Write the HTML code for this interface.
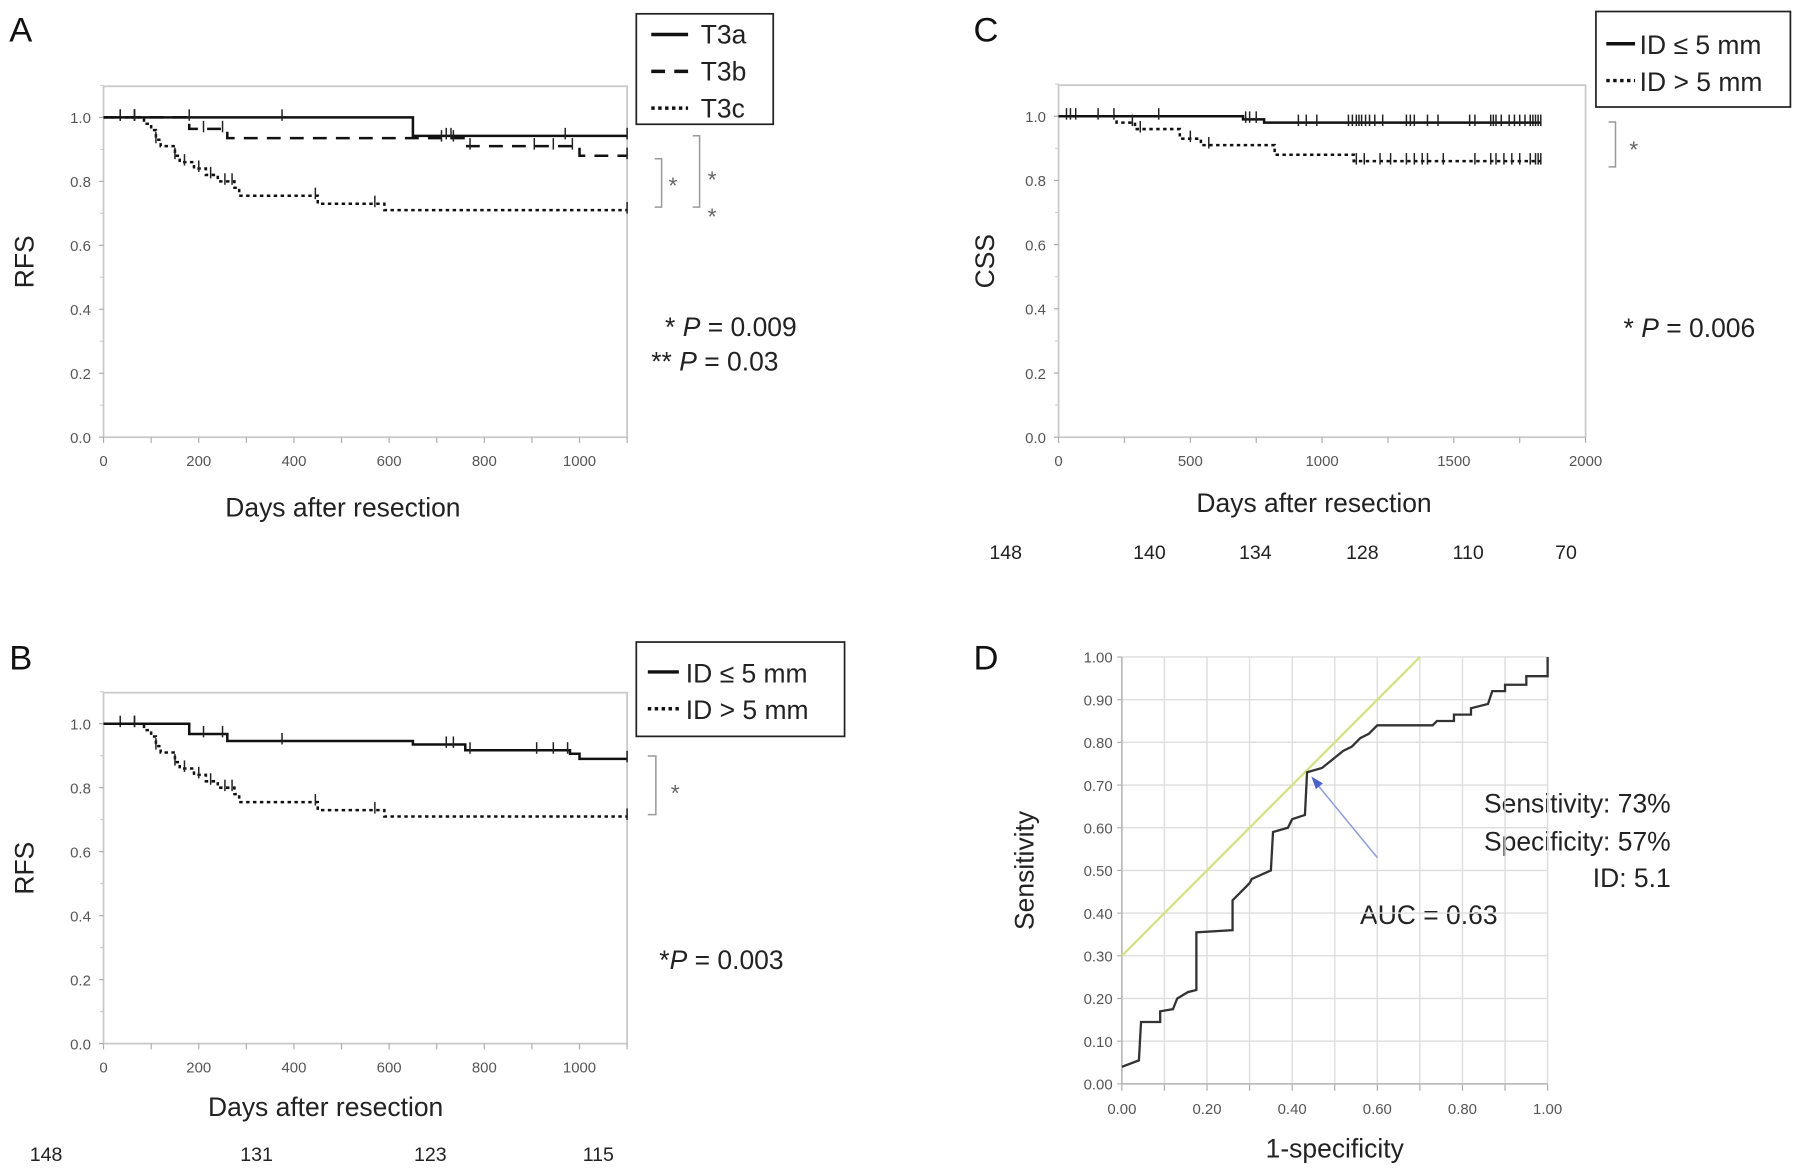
<!DOCTYPE html>
<html><head><meta charset="utf-8"><style>
html,body{margin:0;padding:0;background:#fff;}
svg{display:block;font-family:"Liberation Sans",sans-serif;}
.tk{font-size:13px;fill:#555;}
.lab{font-size:23px;fill:#222;}
.big{font-size:30px;fill:#111;}
</style></head><body>
<svg id="fig" width="1795" height="1172" viewBox="0 0 1560 1018.6" preserveAspectRatio="none">
<text x="8" y="36" class="big">A</text>
<text x="8" y="582" class="big">B</text>
<text x="846" y="36" class="big">C</text>
<text x="846" y="582" class="big">D</text>

<!-- Panel A legend -->
<g>
<rect x="553" y="12" width="119" height="96" fill="none" stroke="#222" stroke-width="1.5"/>
<line x1="566" y1="30" x2="598" y2="30" stroke="#111" stroke-width="3"/><text x="609" y="38" class="lab">T3a</text>
<line x1="566" y1="62" x2="598" y2="62" stroke="#111" stroke-width="3" stroke-dasharray="12,8"/><text x="609" y="70" class="lab">T3b</text>
<line x1="566" y1="94" x2="598" y2="94" stroke="#111" stroke-width="3" stroke-dasharray="3,3"/><text x="609" y="102" class="lab">T3c</text>
</g>
<g stroke="#999" fill="none" stroke-width="1.3">
<polyline points="569,138 575,138 575,180 569,180"/>
<polyline points="602,118 608,118 608,180 602,180"/>
</g>
<text x="581" y="168" class="lab" fill="#666" style="fill:#666;font-size:20px">*</text>
<text x="615" y="163" style="fill:#666;font-size:20px">*</text>
<text x="615" y="195" style="fill:#666;font-size:20px">*</text>
<text x="578" y="292" class="lab">* <tspan font-style="italic">P</tspan> = 0.009</text>
<text x="566" y="322" class="lab">** <tspan font-style="italic">P</tspan> = 0.03</text>

<!-- Panel B legend -->
<g>
<rect x="553" y="558" width="181" height="82" fill="none" stroke="#222" stroke-width="1.5"/>
<line x1="563" y1="584" x2="590" y2="584" stroke="#111" stroke-width="3"/><text x="596" y="593" class="lab">ID ≤ 5 mm</text>
<line x1="563" y1="616" x2="590" y2="616" stroke="#111" stroke-width="3" stroke-dasharray="3,3"/><text x="596" y="625" class="lab">ID &gt; 5 mm</text>
</g>
<polyline points="563,657 570,657 570,708 563,708" fill="none" stroke="#999" stroke-width="1.3"/>
<text x="583" y="696" style="fill:#666;font-size:20px">*</text>
<text x="573" y="842" class="lab">*<tspan font-style="italic">P</tspan> = 0.003</text>

<!-- Panel C legend -->
<g>
<rect x="1387" y="10" width="169" height="83" fill="none" stroke="#222" stroke-width="1.5"/>
<line x1="1396" y1="38" x2="1421" y2="38" stroke="#111" stroke-width="3"/><text x="1425" y="47" class="lab">ID ≤ 5 mm</text>
<line x1="1396" y1="70" x2="1421" y2="70" stroke="#111" stroke-width="3" stroke-dasharray="3,3"/><text x="1425" y="79" class="lab">ID &gt; 5 mm</text>
</g>
<polyline points="1398,106 1404,106 1404,145 1398,145" fill="none" stroke="#999" stroke-width="1.3"/>
<text x="1416" y="137" style="fill:#666;font-size:20px">*</text>
<text x="1411" y="293" class="lab">* <tspan font-style="italic">P</tspan> = 0.006</text>

<!-- Panel D annotations -->
<text x="1452" y="706" text-anchor="end" class="lab">Sensitivity: 73%</text>
<text x="1452" y="739" text-anchor="end" class="lab">Specificity: 57%</text>
<text x="1452" y="771" text-anchor="end" class="lab">ID: 5.1</text>
<text x="1182" y="803" class="lab">AUC = 0.63</text>
<g id="dyn"></g>
</svg>
<script>
// ---- Panel A data ----
const t3aTimes=[0,650,1100];
const t3aSurv=[1.0,0.942,0.942];
const t3aCens=[35,65,180,375,720,730,970,1100];
const t3bTimes=[0,180,260,760,1000,1100];
const t3bSurv=[1.0,0.964,0.935,0.91,0.88,0.88];
const t3bCens=[35,65,210,250,710,735,770,905,945,985,1100];
const t3cTimes=[0,85,100,110,120,150,160,190,215,240,275,285,450,590,1100];
const t3cSurv=[1.0,0.98,0.96,0.93,0.91,0.88,0.86,0.84,0.82,0.80,0.78,0.755,0.73,0.71,0.71];
const t3cCens=[65,110,150,170,200,225,255,270,445,570,1100];
// ---- Panel B data ----
const bSmallTimes=[0,180,260,650,760,980,1000,1100];
const bSmallSurv=[1.0,0.968,0.946,0.935,0.917,0.906,0.89,0.89];
const bSmallCens=[35,65,210,250,375,720,735,770,910,945,975,1100];
const bLargeTimes=t3cTimes.slice();
const bLargeSurv=t3cSurv.slice();
const bLargeCens=t3cCens.slice();
const bRiskLabels=["148","131","123","115"];
// ---- Panel C data ----
const cSmallTimes=[0,700,780,1830];
const cSmallSurv=[1.0,0.99,0.98,0.98];
const cSmallCens=[30,45,65,150,210,380,710,725,750,910,940,980,1100,1115,1130,1140,1150,1165,1180,1200,1230,1320,1335,1350,1400,1440,1560,1580,1640,1650,1660,1680,1710,1730,1750,1770,1790,1800,1810,1820,1830];
const cLargeTimes=[0,220,290,460,540,820,1120,1830];
const cLargeSurv=[1.0,0.98,0.96,0.93,0.91,0.88,0.86,0.86];
const cLargeCens=[280,310,500,570,1130,1160,1220,1260,1320,1350,1380,1400,1460,1580,1640,1660,1690,1720,1750,1790,1810,1820,1830];
const cRiskLabels=["148","140","134","128","110","70"];
// ---- Panel D data ----
const rocX=[0,0.04,0.045,0.09,0.09,0.12,0.13,0.155,0.175,0.175,0.26,0.26,0.30,0.305,0.35,0.355,0.39,0.40,0.43,0.435,0.47,0.52,0.54,0.56,0.58,0.60,0.73,0.74,0.78,0.78,0.82,0.82,0.86,0.87,0.90,0.90,0.95,0.95,1.0,1.0];
const rocY=[0.04,0.055,0.145,0.145,0.17,0.175,0.20,0.215,0.22,0.355,0.36,0.43,0.47,0.48,0.50,0.59,0.60,0.62,0.63,0.73,0.74,0.78,0.79,0.81,0.82,0.84,0.84,0.85,0.85,0.865,0.865,0.88,0.89,0.92,0.92,0.935,0.935,0.955,0.955,1.0];
const refLineX=[0,0.70];
const refLineY=[0.30,1.00];
const rocTicks=["0.00","0.10","0.20","0.30","0.40","0.50","0.60","0.70","0.80","0.90","1.00"];
const rocXTicks=["0.00","0.20","0.40","0.60","0.80","1.00"];
const kmYTicks=["0.0","0.2","0.4","0.6","0.8","1.0"];

const NS='http://www.w3.org/2000/svg';
const root=document.getElementById('dyn');
function el(tag,attrs,parent){const e=document.createElementNS(NS,tag);for(const k in attrs)e.setAttribute(k,attrs[k]);(parent||root).appendChild(e);return e;}
function txt(x,y,s,cls,anchor,parent){const t=el('text',{x:x,y:y,class:cls,'text-anchor':anchor||'start'},parent);t.textContent=s;return t;}

function kmAxes(g,L,R,T,B,y1,xmax,xstep,ylabel,xlabel,xlabelX,xlabelY){
  const sx=v=>L+(R-L)*v/xmax, sy=v=>B-(B-y1)*v;
  el('rect',{x:L,y:T,width:R-L,height:B-T,fill:'none',stroke:'#c8c8c8','stroke-width':1.5},g);
  kmYTicks.forEach((s,i)=>{const v=parseFloat(s);el('line',{x1:L-4,y1:sy(v),x2:L,y2:sy(v),stroke:'#aaa'},g);txt(L-11,sy(v)+5,s,'tk','end',g);
    el('line',{x1:L-3,y1:sy(v+0.1),x2:L,y2:sy(v+0.1),stroke:'#ccc'},g);});
  for(let v=0;v<=xmax+1;v+=xstep/2){const x=sx(v);el('line',{x1:x,y1:B,x2:x,y2:B+5,stroke:'#aaa'},g);if(Math.round(v/xstep)*xstep===v)txt(x,B+25,String(v),'tk','middle',g);}
  const yl=txt(0,0,ylabel,'lab','middle',g);yl.setAttribute('transform','translate('+(ylabel==='CSS'?864:29)+','+((T+B)/2)+') rotate(-90)');
  txt(xlabelX,xlabelY,xlabel,'lab','middle',g);
  return {sx,sy};
}
function step(g,ax,times,surv,cens,dash,name){
  let d='M'+ax.sx(times[0])+','+ax.sy(surv[0]);
  for(let i=1;i<times.length;i++){d+=' H'+ax.sx(times[i])+' V'+ax.sy(surv[i]);}
  const p=el('path',{d:d,fill:'none',stroke:'#111','stroke-width':dash==='dot'?2.2:2.2,'stroke-dasharray':dash==='dash'?'12,8':dash==='dot'?'3,3':'none'},g);
  
  
  cens.forEach(c=>{let s=surv[0];for(let i=0;i<times.length;i++){if(times[i]<=c)s=surv[i];}
    const m=el('line',{x1:ax.sx(c),y1:ax.sy(s)-7,x2:ax.sx(c),y2:ax.sy(s)+3,stroke:'#222','stroke-width':1.3},g);
    
    });
}
// Panel A
const gA=el('g',{});


const axA=kmAxes(gA,90,545,75,380,102,1100,200,'RFS','Days after resection',298,449);
step(gA,axA,t3aTimes,t3aSurv,t3aCens,'solid','t3a-curve');
step(gA,axA,t3bTimes,t3bSurv,t3bCens,'dash','t3b-curve');
step(gA,axA,t3cTimes,t3cSurv,t3cCens,'dot','t3c-curve');
// Panel B
const gB=el('g',{});


const axB=kmAxes(gB,90,545,602,907,629,1100,200,'RFS','Days after resection',283,970);
step(gB,axB,bSmallTimes,bSmallSurv,bSmallCens,'solid','id-small-curve-b');
step(gB,axB,bLargeTimes,bLargeSurv,bLargeCens,'dot','id-large-curve-b');
const bRiskX=[40,223,374,520];
bRiskLabels.forEach((s,i)=>{const t=txt(bRiskX[i],1009,s,'lab','middle');t.style.fontSize='17px';
  
  });
// Panel C
const gC=el('g',{});


const axC=kmAxes(gC,920,1378,74,380,101,2000,500,'CSS','Days after resection',1142,445);
step(gC,axC,cSmallTimes,cSmallSurv,cSmallCens,'solid','id-small-curve-c');
step(gC,axC,cLargeTimes,cLargeSurv,cLargeCens,'dot','id-large-curve-c');
const cRiskX=[874,999,1091,1184,1276,1361];
cRiskLabels.forEach((s,i)=>{const t=txt(cRiskX[i],486,s,'lab','middle');t.style.fontSize='17px';
  
  });
// Panel D
const gD=el('g',{});


const DL=975,DR=1345,DT=571,DB=942;
const dx=v=>DL+(DR-DL)*v, dy=v=>DB-(DB-DT)*v;
rocTicks.forEach(s=>{const v=parseFloat(s);
  el('line',{x1:DL,y1:dy(v),x2:DR,y2:dy(v),stroke:'#ddd','stroke-width':1.2},gD);
  el('line',{x1:dx(v),y1:DT,x2:dx(v),y2:DB,stroke:'#ddd','stroke-width':1.2},gD);
  el('line',{x1:DL-4,y1:dy(v),x2:DL,y2:dy(v),stroke:'#aaa'},gD);
  el('line',{x1:dx(v),y1:DB,x2:dx(v),y2:DB+6,stroke:'#aaa'},gD);
  txt(DL-8,dy(v)+5,s,'tk','end',gD);});
rocXTicks.forEach(s=>{txt(dx(parseFloat(s)),DB+26,s,'tk','middle',gD);});
el('line',{x1:DL,y1:DT,x2:DL,y2:DB,stroke:'#bbb','stroke-width':1.5},gD);
el('line',{x1:DL,y1:DB,x2:DR,y2:DB,stroke:'#bbb','stroke-width':1.5},gD);
const ref=el('line',{x1:dx(refLineX[0]),y1:dy(refLineY[0]),x2:dx(refLineX[1]),y2:dy(refLineY[1]),stroke:'#d6e27e','stroke-width':2},gD);


const rp=el('polyline',{points:rocX.map((x,i)=>dx(x)+','+dy(rocY[i])).join(' '),fill:'none',stroke:'#333','stroke-width':2},gD);


const ar=el('line',{x1:dx(0.60),y1:dy(0.53),x2:dx(0.46),y2:dy(0.70),stroke:'#8e9ae0','stroke-width':1.3},gD);


el('polygon',{points:(dx(0.445))+','+dy(0.72)+' '+(dx(0.445)+4)+','+(dy(0.72)+11)+' '+(dx(0.445)+10)+','+(dy(0.72)+6),fill:'#4a5fd0'},gD);
const sl=txt(0,0,'Sensitivity','lab','middle',gD);sl.setAttribute('transform','translate(898,'+((DT+DB)/2)+') rotate(-90)');
txt((DL+DR)/2,1006,'1-specificity','lab','middle',gD);
</script>
</body></html>
